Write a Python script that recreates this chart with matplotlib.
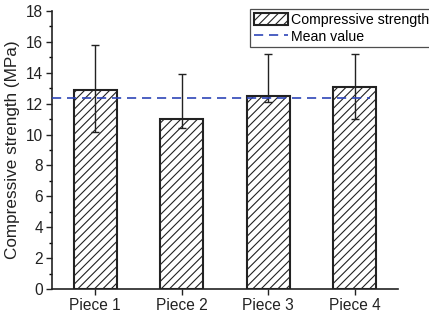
import matplotlib.pyplot as plt
import numpy as np
from matplotlib.ticker import MultipleLocator

plt.rcParams["font.family"] = ["Liberation Sans", "DejaVu Sans"]
plt.rcParams["hatch.linewidth"] = 0.8

pieces = ["Piece 1", "Piece 2", "Piece 3", "Piece 4"]
strength = [12.88, 10.99, 12.52, 13.08]
err_low = [2.73, 0.59, 0.42, 2.09]
err_high = [2.92, 2.91, 2.70, 2.14]

x = np.arange(1, len(pieces) + 1)
mean_val = float(np.mean(strength))

fig = plt.figure(figsize=(4.29, 3.2), dpi=100)
ax = fig.add_axes([52 / 429, 31 / 320, 346 / 429, 278 / 320])

bars = ax.bar(x, strength, width=0.5, color="white", edgecolor="#222222",
              linewidth=1.5, hatch="////", label="Compressive strength", zorder=2)
ax.errorbar(x, strength, yerr=[err_low, err_high], fmt="none", ecolor="#222222",
            elinewidth=1.0, capsize=3, capthick=1.0, zorder=3)
mean_line = ax.axhline(mean_val, xmin=0.0, xmax=0.92, color="#2e45b8",
                       linestyle=(0, (5.5, 3.5)), linewidth=1.2, zorder=4,
                       label="Mean value")

ax.set_xlim(0.5, 4.5)
ax.set_ylim(0, 18)
ax.set_xticks(x)
ax.set_xticklabels(pieces)
ax.yaxis.set_major_locator(MultipleLocator(2))
ax.yaxis.set_minor_locator(MultipleLocator(1))
ax.tick_params(axis="both", which="major", direction="out", length=4,
               width=1.0, labelsize=11.2, colors="#222222", pad=2.5)
ax.tick_params(axis="y", which="minor", direction="out", length=2.5, width=1.0)
for side in ["top", "right"]:
    ax.spines[side].set_visible(False)
for side in ["left", "bottom"]:
    ax.spines[side].set_linewidth(1.2)
    ax.spines[side].set_color("#222222")
ax.set_ylabel("Compressive strength (MPa)", fontsize=12.3, color="#222222",
              labelpad=4)

leg = fig.legend(handles=[bars, mean_line], loc="upper left",
                 bbox_to_anchor=(250 / 429, 1 - 9 / 320), fontsize=10.2,
                 frameon=True, fancybox=False, edgecolor="#222222",
                 handlelength=2.4, handleheight=1.0, handletextpad=0.25,
                 borderpad=0.25, labelspacing=0.2, borderaxespad=0)
leg.get_frame().set_linewidth(0.9)

fig.savefig("out.png", dpi=100)
